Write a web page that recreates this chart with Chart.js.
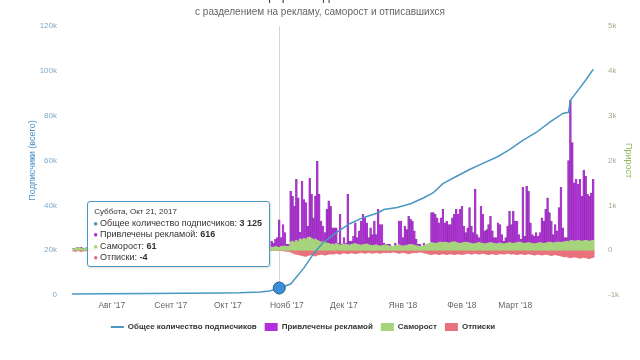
<!DOCTYPE html>
<html>
<head>
<meta charset="utf-8">
<script src="https://cdn.jsdelivr.net/npm/chart.js@4.4.0/dist/chart.umd.min.js"></script>
<style>
  html, body { margin: 0; padding: 0; background: #fff; }
  #wrap { position: relative; width: 640px; height: 360px; }
  #tip {
    position: absolute; display: none; pointer-events: none; white-space: nowrap;
    background: rgba(255, 255, 255, 0.9); border: 1px solid #4a97c2; border-radius: 3px;
    padding: 5px 7px 3px 5px; box-shadow: 1px 1px 2px rgba(0, 0, 0, 0.12);
    font-family: 'Liberation Sans', Arial, sans-serif; font-size: 9px; line-height: 10.2px; color: #333;
  }
  #tip .t { font-size: 8px; margin-bottom: 1px; padding-left: 1px; }
  #tip .dot { font-size: 8px; margin-right: 2px; }
</style>
</head>
<body>
<div id="wrap"><canvas id="growthChart"></canvas><div id="tip"></div></div>
<script>
Chart.defaults.font.family = "'Liberation Sans', Arial, sans-serif";
Chart.defaults.color = '#666';

// day 0 = 2 июля 2017
const startDate = new Date(2017, 6, 2);
const monthNames = ['Янв', 'Фев', 'Март', 'Апр', 'Май', 'Июнь', 'Июль', 'Авг', 'Сент', 'Окт', 'Нояб', 'Дек'];
const dayNames = ['Воскресенье', 'Понедельник', 'Вторник', 'Среда', 'Четверг', 'Пятница', 'Суббота'];

const xTickDays = [23, 54, 84, 115, 145, 176, 207, 235];
const xTickLabels = ["Авг '17", "Сент '17", "Окт '17", "Нояб '17", "Дек '17", "Янв '18", "Фев '18", "Март '18"];

// total subscribers (left axis)
const totalDays = [2, 20, 43, 60, 80, 90, 101, 106, 111, 117, 124, 129, 134, 141, 148, 155, 163, 166, 173, 180,
  187, 192, 197, 205, 211, 218, 226, 232, 239, 246, 253, 260, 263, 264, 268, 272, 276];
const totalSubs = [450, 560, 700, 800, 900, 1000, 1350, 1800, 3125, 4900, 12100, 18400, 23300, 27800, 31800, 34500, 36700, 38100, 39000, 40700,
  43400, 45700, 49700, 53300, 56000, 58700, 61800, 64900, 69000, 72500, 77000, 81000, 81500, 86900, 91300, 95800, 100700];

// small early activity (July)
const earlyStartDay = 3;
const earlyAds = [10, 0, 20, 10, 30, 10, 0, 20, 10, 0, 10, 20];
const earlyOrganic = [30, 50, 40, 60, 40, 30, 50, 40, 30, 50, 40, 30];
const earlyUnsub = [-20, -30, -10, -20, -30, -20, -10, -20, -30, -20, -10, -20];

// daily growth from 17 Oct 2017
const growthStartDay = 107;
const adsGrowth = [
  130, 100, 160, 210, 616, 200, 480, 300, 50, 40,
  1140, 1000, 810, 1360, 980, 150, 1310, 870, 820, 260,
  1310, 990, 490, 960, 1760, 1050, 470, 350, 220, 750,
  950, 850, 360, 380, 350, 30, 690, 20, 140, 20,
  1130, 90, 70, 170, 460, 150, 310, 540, 680, 590,
  470, 160, 390, 250, 540, 230, 810, 480, 470, 50,
  10, 30, 40, 10, 0, 60, 0, 530, 550, 190,
  440, 350, 640, 560, 530, 320, 140, 40, 50, 0,
  60, 0, 0, 0, 670, 680, 650, 560, 440, 540,
  740, 430, 480, 410, 400, 540, 610, 740, 640, 760,
  820, 370, 210, 330, 790, 390, 250, 1210, 190, 110,
  820, 650, 290, 310, 410, 590, 270, 130, 140, 460,
  410, 200, 60, 130, 380, 700, 410, 720, 490, 480,
  170, 70, 1240, 160, 1270, 1150, 450, 200, 170, 240,
  150, 220, 560, 500, 750, 1000, 660, 480, 190, 400,
  250, 770, 1230, 320, 90, 80, 1810, 3130, 2180, 1300,
  1370, 1250, 1370, 1000, 1570, 1430, 1040, 1000, 1070, 1360
];
const organicGrowth = [
  70, 60, 80, 70, 61, 80, 90, 90, 80, 90,
  180, 200, 170, 220, 190, 250, 230, 260, 240, 280, 290, 260, 230, 250, 220, 200, 180, 190, 170, 160, 150,
  130, 140, 120, 150, 130, 110, 120, 140, 130, 120, 110, 130, 140, 150, 130, 120, 110, 120, 130, 140,
  120, 110, 100, 110, 120, 100, 90, 100, 110, 120,
  100, 90, 80, 90, 100, 110, 120, 100, 90, 100, 110, 120, 130, 120, 110, 100, 90, 80, 90, 100,
  120, 140, 160, 170, 160, 150, 160, 170, 180, 170,
  180, 170, 160, 170, 180, 190, 170, 160, 150, 160, 170, 180, 170, 160, 150, 140, 150, 160, 170, 160,
  150, 140, 150, 160, 170, 160, 150, 140, 150, 160,
  150, 140, 150, 160, 170, 160, 150, 160, 170, 180, 170, 160, 150, 160, 170, 160, 150, 140, 150, 160,
  170, 160, 150, 160, 170, 180, 170, 160, 170, 180,
  180, 170, 180, 190, 200, 190, 210, 220, 200, 210, 220, 210, 200, 210, 220, 210, 200, 210, 220
];
const unsubGrowth = [
  -10, -5, -8, -6, -4, -10, -15, -20, -25, -30,
  -40, -60, -80, -90, -100, -110, -120, -130, -140, -120, -110, -100, -120, -130, -110, -100, -90, -100, -110, -100, -90,
  -80, -90, -80, -70, -80, -90, -70, -60, -70, -80, -70, -60, -70, -80, -70, -60, -50, -60, -70, -60,
  -50, -60, -70, -60, -50, -60, -70, -60, -50, -60,
  -50, -60, -50, -40, -50, -60, -70, -60, -50, -60, -70, -80, -70, -60, -50, -60, -50, -40, -50, -60,
  -70, -80, -90, -100, -90, -80, -90, -100, -90, -80,
  -90, -100, -90, -80, -90, -100, -90, -80, -90, -100, -90, -80, -70, -80, -90, -80, -70, -80, -90, -80,
  -70, -80, -90, -100, -90, -80, -90, -100, -90, -80,
  -80, -90, -80, -70, -80, -90, -80, -90, -100, -90, -80, -90, -100, -90, -80, -90, -100, -110, -100, -90,
  -100, -110, -100, -90, -100, -110, -120, -110, -100, -110,
  -120, -130, -140, -150, -140, -160, -170, -160, -150, -160, -170, -180, -170, -160, -170, -180, -190, -170, -160
];

const hoverDay = 111;

const lineColor = '#4a97c2';
const adsColor = '#b42fdc';
const organicColor = '#a6d47c';
const unsubColor = '#e8727c';

function toPoints(firstDay, values) {
  return values.map((v, i) => ({ x: firstDay + i, y: v }));
}
function fmt(v) {
  const s = String(Math.abs(v)).replace(/\B(?=(\d{3})+(?!\d))/g, ' ');
  return (v < 0 ? '-' : '') + s;
}
function kFmt(v) {
  return v === 0 ? '0' : (v / 1000) + 'k';
}

const linePoints = totalDays.map((d, i) => ({ x: d, y: totalSubs[i] }));
const adsPoints = toPoints(earlyStartDay, earlyAds).concat(toPoints(growthStartDay, adsGrowth));
const organicPoints = toPoints(earlyStartDay, earlyOrganic).concat(toPoints(growthStartDay, organicGrowth));
const unsubPoints = toPoints(earlyStartDay, earlyUnsub).concat(toPoints(growthStartDay, unsubGrowth));

Chart.Tooltip.positioners.linePoint = function (elements) {
  if (!elements.length) return false;
  return elements[0].element.tooltipPosition();
};

function externalTip(context) {
  const tooltip = context.tooltip;
  const el = document.getElementById('tip');
  if (tooltip.opacity === 0) { el.style.display = 'none'; return; }
  const pts = tooltip.dataPoints;
  const d = new Date(startDate);
  d.setDate(d.getDate() + pts[0].parsed.x);
  let html = '<div class="t">' + dayNames[d.getDay()] + ', ' + monthNames[d.getMonth()] + ' ' + d.getDate() + ', ' + d.getFullYear() + '</div>';
  pts.forEach(p => {
    const c = p.datasetIndex === 0 ? p.dataset.borderColor : p.dataset.backgroundColor;
    html += '<div><span class="dot" style="color:' + c + '">\u25CF</span>' + p.dataset.label + ': <b>' + fmt(p.parsed.y) + '</b></div>';
  });
  el.innerHTML = html;
  el.style.display = 'block';
  el.style.left = (tooltip.caretX - el.offsetWidth - 9) + 'px';
  el.style.top = (tooltip.caretY - 87) + 'px';
}

const crosshair = {
  id: 'crosshair',
  beforeDatasetsDraw(chart) {
    const act = chart.getActiveElements();
    if (!act.length) return;
    const x = act[0].element.x;
    const ctx = chart.ctx;
    ctx.save();
    ctx.strokeStyle = '#d6d6d6';
    ctx.lineWidth = 1;
    ctx.beginPath();
    ctx.moveTo(Math.round(x) + 0.5, chart.chartArea.top);
    ctx.lineTo(Math.round(x) + 0.5, chart.chartArea.bottom);
    ctx.stroke();
    ctx.restore();
  }
};

// legend in the original sits a bit left of the canvas centre
const legendShift = {
  id: 'legendShift',
  afterLayout(chart) {
    chart.legend.left -= 17;
    chart.legend.right -= 17;
  }
};

const ctx = document.getElementById('growthChart');
const growthChart = new Chart(ctx, {
  type: 'bar',
  data: {
    datasets: [{
      type: 'line',
      label: 'Общее количество подписчиков',
      data: linePoints,
      yAxisID: 'y',
      borderColor: lineColor,
      backgroundColor: lineColor,
      borderWidth: 1.5,
      tension: 0,
      pointRadius: 0,
      pointHoverRadius: 6,
      pointHoverBackgroundColor: '#3a8ed8',
      pointHoverBorderColor: '#24608f',
      pointHoverBorderWidth: 1,
      order: 0
    }, {
      label: 'Привлечены рекламой',
      data: adsPoints,
      yAxisID: 'y1',
      stack: 'growth',
      backgroundColor: adsColor,
      hoverBackgroundColor: adsColor,
      borderColor: 'rgba(95, 20, 120, 0.75)',
      hoverBorderColor: 'rgba(95, 20, 120, 0.75)',
      borderWidth: 0.5,
      barPercentage: 1,
      categoryPercentage: 1,
      order: 2
    }, {
      label: 'Саморост',
      data: organicPoints,
      yAxisID: 'y1',
      stack: 'growth',
      backgroundColor: organicColor,
      hoverBackgroundColor: organicColor,
      borderWidth: 0,
      barPercentage: 1,
      categoryPercentage: 1,
      order: 1
    }, {
      label: 'Отписки',
      data: unsubPoints,
      yAxisID: 'y1',
      stack: 'growth',
      backgroundColor: unsubColor,
      hoverBackgroundColor: unsubColor,
      borderWidth: 0,
      barPercentage: 1,
      categoryPercentage: 1,
      order: 3
    }]
  },
  options: {
    responsive: true,
    maintainAspectRatio: false,
    animation: false,
    layout: { padding: { top: 0, bottom: 19, left: 0, right: 0 } },
    scales: {
      x: {
        type: 'linear',
        stacked: true,
        offset: false,
        min: 0,
        max: 278.5,
        grid: { display: false, drawTicks: false },
        border: { display: false },
        afterBuildTicks: (scale) => { scale.ticks = xTickDays.map(v => ({ value: v })); },
        afterFit: (scale) => { scale.height = 20; },
        ticks: {
          autoSkip: false,
          maxRotation: 0,
          padding: 6,
          color: '#666',
          font: { size: 8.5 },
          callback: (v, i) => xTickLabels[i]
        }
      },
      y: {
        position: 'left',
        min: 0,
        max: 120000,
        grid: { display: false, drawTicks: false },
        border: { display: false },
        afterFit: (scale) => { scale.width = 68; },
        ticks: { stepSize: 20000, padding: 11, color: '#7fa9c9', font: { size: 8 }, callback: (v) => kFmt(v) },
        title: { display: true, text: 'Подписчики (всего)', color: '#4b91c9', font: { size: 9 }, padding: { top: 27, bottom: 0 } }
      },
      y1: {
        position: 'right',
        stacked: true,
        min: -1000,
        max: 5000,
        grid: { display: false, drawTicks: false },
        border: { display: false },
        afterFit: (scale) => { scale.width = 42; },
        ticks: { stepSize: 1000, padding: 10, color: '#a0ad92', font: { size: 8 }, callback: (v) => kFmt(v) },
        title: { display: true, text: 'Прирост', color: '#8dbb5c', font: { size: 9 }, padding: { top: 6, bottom: 0 } }
      }
    },
    plugins: {
      title: {
        display: true,
        text: 'Прирост подписчиков',
        color: '#333',
        font: { size: 12, weight: 'normal' },
        padding: { top: -11, bottom: 3 }
      },
      subtitle: {
        display: true,
        text: 'с разделением на рекламу, саморост и отписавшихся',
        color: '#666',
        font: { size: 10 },
        padding: { top: 0, bottom: 7.6 }
      },
      legend: {
        position: 'bottom',
        labels: {
          usePointStyle: true,
          pointStyleWidth: 13,
          boxHeight: 10,
          padding: 8,
          color: '#333',
          font: { size: 8, weight: 'bold' },
          sort: (a, b) => a.datasetIndex - b.datasetIndex,
          generateLabels(chart) {
            const items = Chart.defaults.plugins.legend.labels.generateLabels(chart);
            items.forEach(it => {
              if (it.datasetIndex === 0) {
                it.pointStyle = 'line';
                it.strokeStyle = lineColor;
                it.lineWidth = 2;
              } else {
                it.pointStyle = 'rect';
                it.lineWidth = 0;
              }
            });
            return items;
          }
        }
      },
      tooltip: {
        enabled: false,
        position: 'linePoint',
        external: externalTip
      }
    }
  },
  plugins: [crosshair, legendShift]
});

// show the hovered day as in the picture
const active = [
  { datasetIndex: 0, index: totalDays.indexOf(hoverDay) },
  { datasetIndex: 1, index: adsPoints.findIndex(p => p.x === hoverDay) },
  { datasetIndex: 2, index: organicPoints.findIndex(p => p.x === hoverDay) },
  { datasetIndex: 3, index: unsubPoints.findIndex(p => p.x === hoverDay) }
];
growthChart.setActiveElements(active);
growthChart.tooltip.setActiveElements(active, { x: 0, y: 0 });
growthChart.update('none');
</script>
</body>
</html>
